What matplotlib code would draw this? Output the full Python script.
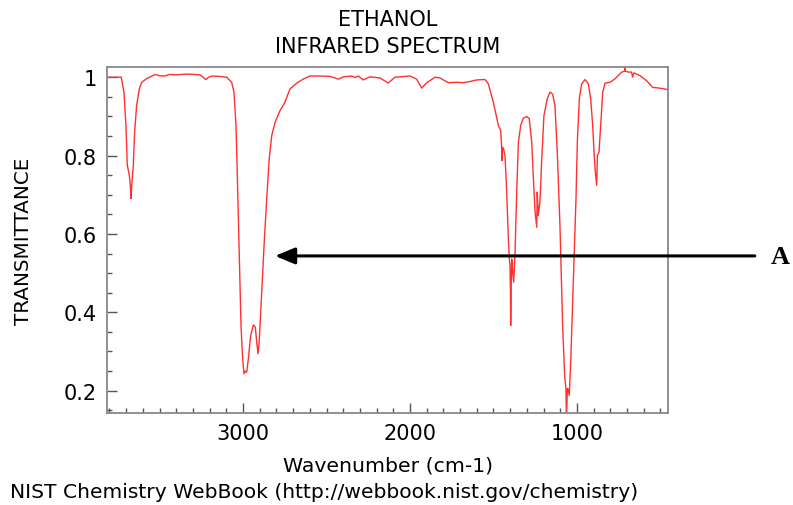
import matplotlib
matplotlib.use("Agg")
import matplotlib.pyplot as plt
from matplotlib.ticker import MultipleLocator

# Spectrum data (wavenumber in cm-1, transmittance)
wavenumber = [3816, 3760, 3729, 3713, 3701, 3693, 3681, 3674, 3671, 3665, 3657, 3649,
              3637, 3621, 3607, 3578, 3527, 3500, 3467, 3440, 3400, 3337, 3290, 3257,
              3240, 3222, 3205, 3188, 3140, 3098, 3068, 3054, 3042, 3034, 3022, 3012,
              3002, 2994, 2986, 2978, 2968, 2954, 2938, 2926, 2918, 2910, 2902, 2888,
              2874, 2858, 2843, 2828, 2808, 2778, 2749, 2719, 2678, 2640, 2619, 2599,
              2540, 2479, 2429, 2399, 2349, 2329, 2310, 2280, 2240, 2180, 2130, 2090,
              2000, 1960, 1930, 1900, 1850, 1820, 1771, 1720, 1681, 1641, 1601, 1551,
              1531, 1501, 1481, 1471, 1457, 1451, 1450, 1449, 1441, 1431, 1421, 1411,
              1405, 1401, 1398, 1397, 1395, 1391, 1385, 1379, 1371, 1361, 1351, 1337,
              1322, 1301, 1286, 1271, 1262, 1251, 1241, 1238, 1232, 1222, 1211, 1198,
              1178, 1162, 1146, 1132, 1118, 1102, 1086, 1074, 1066, 1063, 1058, 1054,
              1046, 1037, 1026, 1018, 1006, 998, 986, 972, 952, 932, 918, 906,
              898, 892, 886, 882, 878, 868, 858, 846, 832, 802, 772, 732,
              716, 713, 710, 690, 673, 667, 659, 623, 583, 547, 503, 453]
transmittance = [1.000, 1.000, 1.000, 0.962, 0.877, 0.775, 0.751, 0.720, 0.690, 0.732, 0.775, 0.860,
                 0.928, 0.970, 0.987, 0.996, 1.007, 1.004, 1.003, 1.007, 1.006, 1.008, 1.007, 1.006,
                 1.000, 0.994, 1.000, 1.003, 1.002, 1.000, 0.987, 0.962, 0.877, 0.749, 0.536, 0.366,
                 0.281, 0.243, 0.250, 0.247, 0.281, 0.341, 0.368, 0.362, 0.324, 0.294, 0.332, 0.452,
                 0.570, 0.690, 0.792, 0.851, 0.885, 0.915, 0.936, 0.970, 0.985, 0.995, 0.999, 1.003,
                 1.003, 1.002, 0.995, 1.001, 1.003, 0.999, 1.003, 0.993, 1.001, 0.998, 0.985, 1.000,
                 1.003, 0.995, 0.972, 0.986, 1.000, 0.998, 0.986, 0.987, 0.986, 0.989, 0.993, 0.994,
                 0.983, 0.936, 0.897, 0.877, 0.864, 0.821, 0.787, 0.821, 0.819, 0.800, 0.707, 0.588,
                 0.536, 0.519, 0.440, 0.366, 0.450, 0.536, 0.503, 0.477, 0.553, 0.707, 0.834, 0.877,
                 0.895, 0.900, 0.894, 0.834, 0.749, 0.656, 0.617, 0.707, 0.647, 0.681, 0.792, 0.902,
                 0.945, 0.962, 0.957, 0.928, 0.809, 0.621, 0.366, 0.239, 0.205, 0.120, 0.205, 0.205,
                 0.188, 0.281, 0.426, 0.536, 0.690, 0.834, 0.945, 0.983, 0.994, 0.983, 0.945, 0.877,
                 0.809, 0.766, 0.741, 0.724, 0.800, 0.809, 0.877, 0.962, 0.985, 0.987, 0.996, 1.013,
                 1.015, 1.026, 1.015, 1.013, 1.013, 1.000, 1.011, 1.004, 0.991, 0.974, 0.972, 0.968]

x_ticks = [3000, 2000, 1000]
x_tick_labels = ["3000", "2000", "1000"]
y_ticks = [0.2, 0.4, 0.6, 0.8, 1.0]
y_tick_labels = ["0.2", "0.4", "0.6", "0.8", "1"]

plt.rcParams['font.family'] = ['DejaVu Sans']

fig = plt.figure(figsize=(7.93, 5.06), dpi=100)
ax = fig.add_axes([0.1346, 0.1818, 0.7082, 0.6838])

ax.plot(wavenumber, transmittance, color='#ff3030', lw=1.0)

ax.set_xlim(3816, 453)
ax.set_ylim(0.143, 1.026)

ax.set_xticks(x_ticks)
ax.set_xticklabels(x_tick_labels)
ax.set_yticks(y_ticks)
ax.set_yticklabels(y_tick_labels)
ax.xaxis.set_minor_locator(MultipleLocator(100))
ax.yaxis.set_minor_locator(MultipleLocator(0.05))

ax.tick_params(which='both', direction='in', top=False, right=False,
               color='#555555', labelsize=15, pad=7)
ax.tick_params(which='major', length=7, width=1)
ax.tick_params(which='minor', length=3.5, width=1)

for s in ax.spines.values():
    s.set_color('#888888')
    s.set_linewidth(1.3)

ax.set_xlabel("Wavenumber (cm-1)", fontsize=14.7, labelpad=9.5)
ax.set_ylabel("TRANSMITTANCE", fontsize=14.3, labelpad=22)

fig.text(0.489, 0.960, "ETHANOL", ha='center', va='center', fontsize=15)
fig.text(0.489, 0.907, "INFRARED SPECTRUM", ha='center', va='center', fontsize=15)
fig.text(0.012, 0.026, "NIST Chemistry WebBook (http://webbook.nist.gov/chemistry)",
         ha='left', va='center', fontsize=14.6)

ax.annotate("", xy=(0.2997, 0.454), xycoords='axes fraction',
            xytext=(1.154, 0.454), textcoords='axes fraction',
            annotation_clip=False,
            arrowprops=dict(arrowstyle='-|>,head_length=1.2,head_width=0.5',
                            color='black', lw=2.2, shrinkA=0, shrinkB=0))
fig.text(0.984, 0.491, "A", ha='center', va='center', fontsize=19,
         fontweight='bold', family=['Liberation Serif', 'DejaVu Serif'])

fig.savefig("out.png", dpi=100)
